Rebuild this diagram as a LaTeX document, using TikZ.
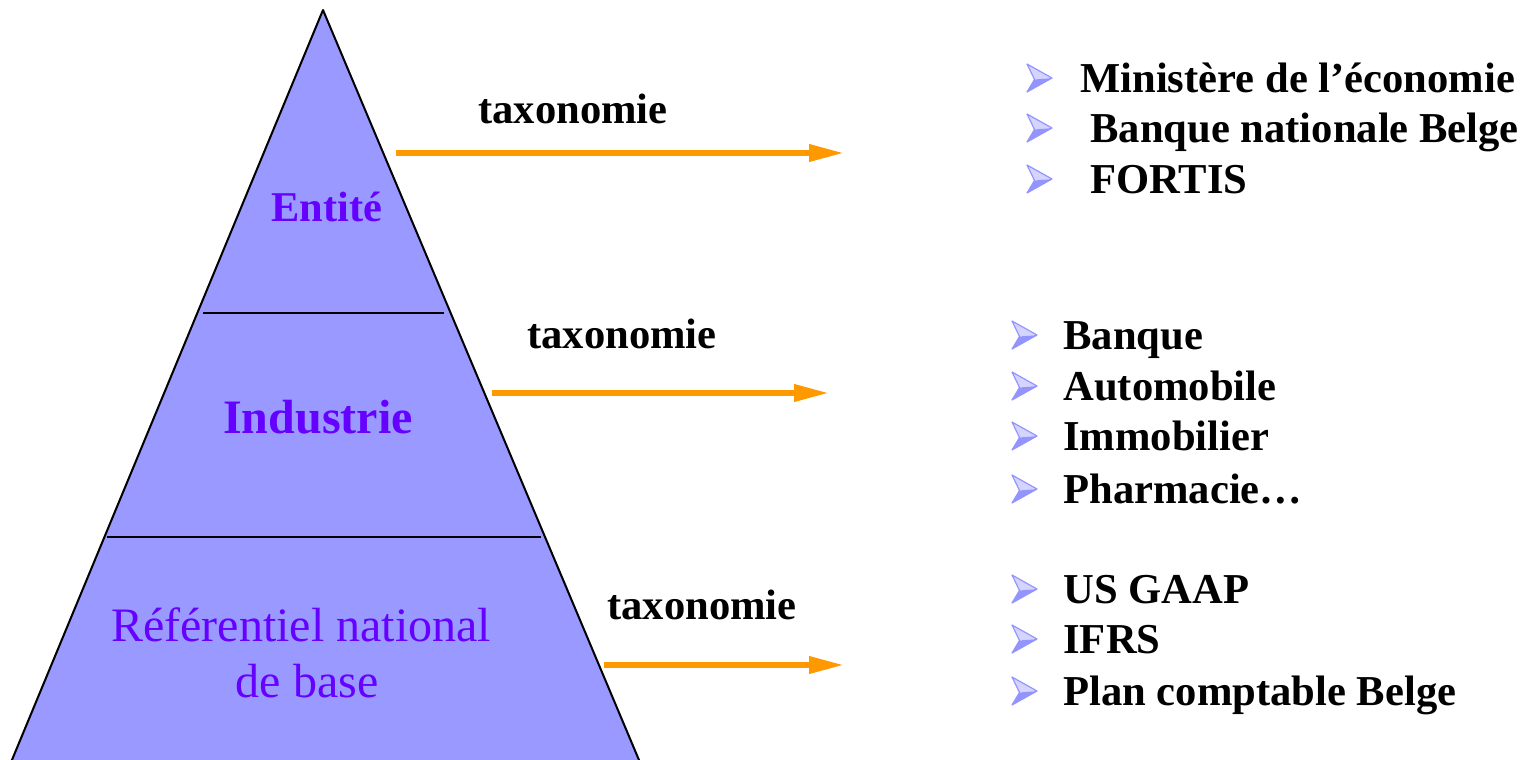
\documentclass[tikz,border=0pt]{standalone}
\usepackage{fontspec}
\setmainfont{Liberation Serif}
\usetikzlibrary{arrows.meta}

\definecolor{pyrfill}{HTML}{9999FF}
\definecolor{pyrtext}{HTML}{6600FF}
\definecolor{flowcol}{HTML}{FF9900}
\definecolor{bulletlight}{HTML}{D4D4FF}
\definecolor{bulletdark}{HTML}{9494FF}

\tikzset{
  x=0.5pt, y=-0.5pt,
  pyramid/.style={fill=pyrfill, draw=black, line width=1pt, line join=round},
  divider/.style={draw=black, line width=1pt},
  layerlabel/.style={anchor=base, inner sep=0pt, text=pyrtext,
    font=\bfseries\fontsize{21.2}{25}\selectfont},
  biglabel/.style={layerlabel, font=\bfseries\fontsize{24}{28}\selectfont},
  baselabel/.style={layerlabel, font=\fontsize{24}{28}\selectfont},
  taxo/.style={anchor=base, inner sep=0pt, font=\bfseries\fontsize{21.3}{25}\selectfont},
  item/.style={anchor=base west, inner sep=0pt, font=\bfseries\fontsize{21.3}{25}\selectfont},
  flow/.style={draw=flowcol, line width=3.3pt,
    -{Triangle[length=18pt,width=8pt]}},
  pics/bulletmark/.style={code={
    \fill[bulletlight] (0,-28) -- (25,-14) -- (7.5,-12.5) -- cycle;
    \fill[bulletdark] (0,0) -- (25,-14) -- (7.5,-12.5) -- cycle;
    \draw[bulletdark, line width=0.6pt, line join=round]
      (0,-28) -- (25,-14) -- (0,0) -- (7.5,-12.5) -- cycle;
  }},
}

\begin{document}
\begin{tikzpicture}
\useasboundingbox (0,0) rectangle (1528,760);

% pyramid and its three layers
\draw[pyramid] (323,10) -- (643.2,770) -- (7.8,770) -- cycle;
\coordinate (d1l) at (203,313);
\coordinate (d1r) at (444,313);
\coordinate (d2l) at (107,537);
\coordinate (d2r) at (541,537);
\draw[divider] (d1l) -- (d1r);
\draw[divider] (d2l) -- (d2r);

\node[layerlabel] (entite) at (327,221) {Entité};
\node[biglabel] (industrie) at (318,433) {Industrie};
\node[baselabel] (ref1) at (301,641) {Référentiel national};
\node[baselabel] (ref2) at (307,697) {de base};

% taxonomy arrows
\node[taxo] (tx1) at (573,123) {taxonomie};
\node[taxo] (tx2) at (622,348) {taxonomie};
\node[taxo] (tx3) at (702,619) {taxonomie};

\coordinate (a1s) at (396,153);
\coordinate (a1e) at (845,153);
\coordinate (a2s) at (492,393);
\coordinate (a2e) at (830,393);
\coordinate (a3s) at (604,665);
\coordinate (a3e) at (845,665);
\draw[flow] (a1s) -- (a1e);
\draw[flow] (a2s) -- (a2e);
\draw[flow] (a3s) -- (a3e);

% entity examples
\pic at (1027,92) {bulletmark};
\pic at (1027,142) {bulletmark};
\pic at (1027,193) {bulletmark};
\node[item] (e1) at (1080,92) {Ministère de l’économie};
\node[item] (e2) at (1090,142) {Banque nationale Belge};
\node[item] (e3) at (1090,193) {FORTIS};

% industry examples
\pic at (1012,349) {bulletmark};
\pic at (1012,400) {bulletmark};
\pic at (1012,450) {bulletmark};
\pic at (1012,503) {bulletmark};
\node[item] (i1) at (1063,349) {Banque};
\node[item] (i2) at (1063,400) {Automobile};
\node[item] (i3) at (1063,450) {Immobilier};
\node[item] (i4) at (1063,503) {Pharmacie…};

% national base frameworks
\pic at (1012,603) {bulletmark};
\pic at (1012,653) {bulletmark};
\pic at (1012,705) {bulletmark};
\node[item] (r1) at (1063,603) {US GAAP};
\node[item] (r2) at (1063,653) {IFRS};
\node[item] (r3) at (1063,705) {Plan comptable Belge};
\end{tikzpicture}
\end{document}
